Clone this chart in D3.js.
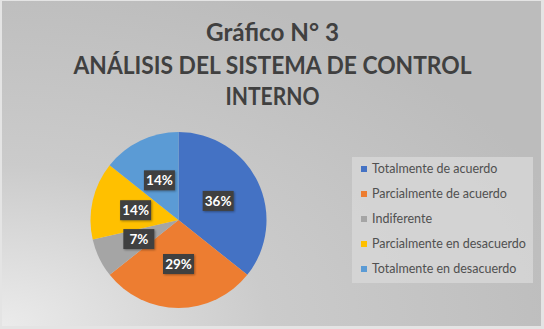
<!DOCTYPE html>
<html><head><meta charset="utf-8">
<script src="https://cdn.jsdelivr.net/npm/d3@7"></script>
<style>html,body{margin:0;padding:0;background:#fff;}svg{display:block;}</style>
</head><body>
<svg id="c" width="544" height="329"></svg>
<script>
const titleLines = ["Gráfico N° 3", "ANÁLISIS DEL SISTEMA DE CONTROL", "INTERNO"];
const categories = ["Totalmente de acuerdo", "Parcialmente de acuerdo", "Indiferente", "Parcialmente en desacuerdo", "Totalmente en desacuerdo"];
const counts = [5, 4, 1, 2, 2];
const colors = ["#4472C4", "#ED7D31", "#A5A5A5", "#FFC000", "#5B9BD5"];

const W = 544, H = 329;
const svg = d3.select("#c");
const defs = svg.append("defs");
const rg = defs.append("radialGradient").attr("id", "bg")
  .attr("cx", "0%").attr("cy", "100%").attr("r", "110%")
  .attr("gradientUnits", "objectBoundingBox");
rg.append("stop").attr("offset", "0%").attr("stop-color", "#ebebeb");
rg.append("stop").attr("offset", "45%").attr("stop-color", "#cbcbcb");
rg.append("stop").attr("offset", "100%").attr("stop-color", "#bcbcbc");
const f = defs.append("filter").attr("id", "sh").attr("x", "-20%").attr("y", "-20%").attr("width", "150%").attr("height", "150%");
f.append("feDropShadow").attr("dx", 1).attr("dy", 1).attr("stdDeviation", 1).attr("flood-color", "#000").attr("flood-opacity", 0.35);

svg.append("rect").attr("x", 0).attr("y", 0).attr("width", W).attr("height", H).attr("fill", "#e4e4e4");
svg.append("rect").attr("x", 2).attr("y", 1).attr("width", W - 5).attr("height", H - 4).attr("fill", "url(#bg)");

const font = "Lato, 'Open Sans', sans-serif";
// Title
const titleY = [41, 74, 105];
const titleWidths = [133, 398, 94];
titleLines.forEach((t, i) => {
  svg.append("text").attr("x", 272.5).attr("y", titleY[i])
    .attr("text-anchor", "middle").attr("font-family", font).attr("font-weight", "bold")
    .attr("font-size", 25).attr("fill", "#404040")
    .attr("textLength", titleWidths[i]).attr("lengthAdjust", "spacingAndGlyphs").text(t);
});

// Pie
const cx = 178.5, cy = 220, r = 88;
const pie = d3.pie().sort(null).value(d => d);
const arcs = pie(counts);
const arc = d3.arc().innerRadius(0).outerRadius(r);
const total = d3.sum(counts);
const g = svg.append("g").attr("transform", `translate(${cx},${cy})`);
g.selectAll("path").data(arcs).enter().append("path")
  .attr("d", arc).attr("fill", (d, i) => colors[i]);

const labelArc = d3.arc().innerRadius(r * 0.5).outerRadius(r * 0.5);
const lab = g.selectAll("g.lab").data(arcs).enter().append("g").attr("class", "lab")
  .attr("transform", d => `translate(${labelArc.centroid(d)})`);
lab.append("rect").attr("x", -15.5).attr("y", -10).attr("width", 31).attr("height", 20)
  .attr("fill", "#404040").attr("filter", "url(#sh)");
lab.append("text").attr("text-anchor", "middle").attr("dy", "0.36em")
  .attr("font-family", font).attr("font-weight", "bold").attr("font-size", 13.5)
  .attr("fill", "#fff").text(d => Math.round(d.data / total * 100) + "%");

// Legend
const lg = svg.append("g");
lg.append("rect").attr("x", 352).attr("y", 157).attr("width", 181).attr("height", 126)
  .attr("fill", "#d6d6d6").attr("opacity", 0.85);
const legY = d3.scalePoint().domain(categories).range([169, 269]);
const items = lg.selectAll("g.it").data(categories).enter().append("g").attr("class", "it")
  .attr("transform", d => `translate(361,${legY(d)})`);
items.append("rect").attr("x", 0).attr("y", -3).attr("width", 6).attr("height", 6)
  .attr("fill", (d, i) => colors[i]);
items.append("text").attr("x", 11).attr("dy", "0.35em").attr("font-family", font)
  .attr("font-size", 12.5).attr("fill", "#505050").text(d => d);
</script>
</body></html>
